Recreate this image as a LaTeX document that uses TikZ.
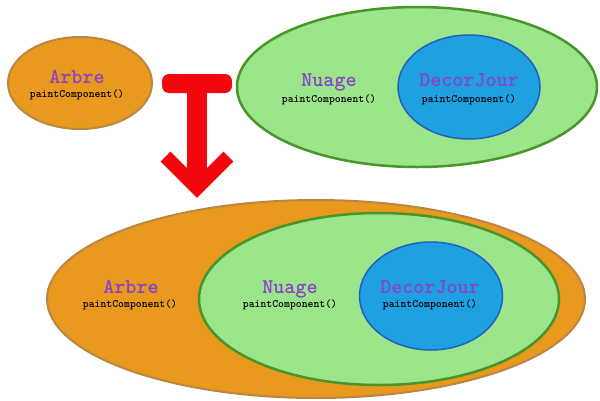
\documentclass[tikz,border=0pt]{standalone}
\usepackage{fontspec}
\usepackage{tikz}
\usetikzlibrary{shapes.geometric,positioning}

\definecolor{arbrefill}{RGB}{232,153,30}
\definecolor{arbreline}{RGB}{185,135,65}
\definecolor{nuagefill}{RGB}{155,229,138}
\definecolor{nuageline}{RGB}{72,150,42}
\definecolor{jourfill}{RGB}{30,160,225}
\definecolor{jourline}{RGB}{35,95,190}
\definecolor{classpurple}{RGB}{140,65,200}
\definecolor{arrowred}{RGB}{242,8,12}

\begin{document}
\begin{tikzpicture}[x=1pt, y=-1pt,
    zone/.style={ellipse, draw, line width=2pt, inner sep=0pt},
    arbre zone/.style={zone, fill=arbrefill, draw=arbreline},
    nuage zone/.style={zone, fill=nuagefill, draw=nuageline, line width=2.5pt},
    jour zone/.style={zone, fill=jourfill, draw=jourline, line width=1.5pt},
    class name/.style={anchor=base, inner sep=0pt, text=classpurple, font=\ttfamily\bfseries\fontsize{21}{21}\selectfont},
    method name/.style={anchor=base, inner sep=0pt, font=\ttfamily\bfseries\fontsize{11.2}{12}\selectfont}]
    \useasboundingbox (0,0) rectangle (600,400);

    % avant : trois composants separes
    \node[arbre zone, minimum width=144pt, minimum height=92pt] (arbre1) at (80,83) {};
    \node[nuage zone, minimum width=360pt, minimum height=160pt] (nuage1) at (417,87) {};
    \node[jour zone, minimum width=142pt, minimum height=104pt] (jour1) at (469,87) {};

    \node[class name] (arbreN1) at (77,83) {Arbre};
    \node[method name] (arbreM1) at (77,97) {paintComponent()};
    \node[class name] (nuageN1) at (329,86) {Nuage};
    \node[method name] (nuageM1) at (329,102) {paintComponent()};
    \node[class name] (jourN1) at (469,86) {DecorJour};
    \node[method name] (jourM1) at (469,102) {paintComponent()};

    % la fleche
    \fill[arrowred, rounded corners=7pt] (162,74) rectangle (232,93);
    \draw[arrowred, line width=20pt] (197,85) -- (197,186);
    \draw[arrowred, line width=14pt, miter limit=10] (165.5,156.5) -- (197,188) -- (228.5,156.5);

    % apres : composants imbriques
    \node[arbre zone, minimum width=538pt, minimum height=198pt] (arbre2) at (316,299) {};
    \node[nuage zone, minimum width=360pt, minimum height=172pt] (nuage2) at (379,299) {};
    \node[jour zone, minimum width=143pt, minimum height=108pt] (jour2) at (431,296) {};

    \node[class name] (arbreN2) at (131,293) {Arbre};
    \node[method name] (arbreM2) at (130,307.5) {paintComponent()};
    \node[class name] (nuageN2) at (290,293) {Nuage};
    \node[method name] (nuageM2) at (290,307.5) {paintComponent()};
    \node[class name] (jourN2) at (430,293) {DecorJour};
    \node[method name] (jourM2) at (430,307.5) {paintComponent()};
\end{tikzpicture}
\end{document}
